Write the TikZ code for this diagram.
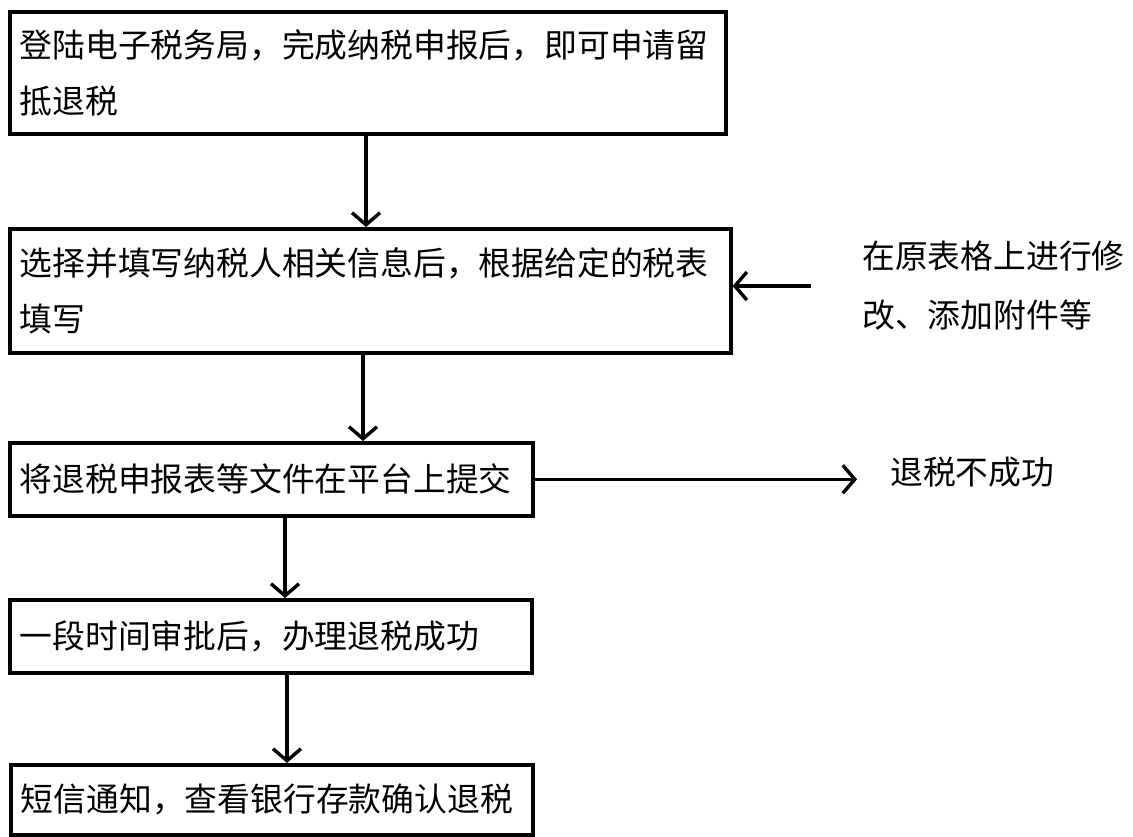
\documentclass[tikz,border=0pt]{standalone}
\usepackage{fontspec}
\setmainfont{Noto Sans CJK SC}
\usetikzlibrary{arrows.meta}
\begin{document}
\begin{tikzpicture}[x=1pt,y=1pt,
  stepbox/.style={draw, line width=3.6pt, anchor=north west, inner xsep=10pt, inner ysep=0pt, align=left, font=\fontsize{32.8}{56}\selectfont},
  arr/.style={line width=3.4pt, -{Straight Barb[length=12pt,width=28pt,line width=3.4pt]}},
  plain/.style={inner sep=0pt, anchor=west, align=left, font=\fontsize{32.8}{59}\selectfont}]
\useasboundingbox[fill=white] (0,0) rectangle (1133,-837);
\node[stepbox, minimum height=122pt, text width=696pt] (b1) at (8,-10) {登陆电子税务局，完成纳税申报后，即可申请留\\抵退税};
\node[stepbox, minimum height=124pt, text width=701pt] (b2) at (8,-227) {选择并填写纳税人相关信息后，根据给定的税表\\填写};
\node[stepbox, minimum height=73pt, text width=503pt] (b3) at (8,-441) {将退税申报表等文件在平台上提交};
\node[stepbox, minimum height=73pt, text width=502pt] (b4) at (8,-598) {一段时间审批后，办理退税成功};
\node[stepbox, minimum height=70pt, text width=502pt] (b5) at (9,-763) {短信通知，查看银行存款确认退税};
\node[plain] (side) at (862,-286) {在原表格上进行修\\改、添加附件等};
\node[plain] (fail) at (890,-472) {退税不成功};
\coordinate (s) at ([xshift=-51pt]side.west);
\draw[arr] ([xshift=358pt]b1.south west) -- ([xshift=358pt]b2.north west);
\draw[arr] ([xshift=355pt]b2.south west) -- ([xshift=355pt]b3.north west);
\draw[arr] ([xshift=277pt]b3.south west) -- ([xshift=277pt]b4.north west);
\draw[arr] ([xshift=279pt]b4.south west) -- ([xshift=278pt]b5.north west);
\draw[arr] (s) -- (s -| b2.east);
\draw[arr] (b3.east) -- ([xshift=-33pt]b3.east -| fail.west);
\end{tikzpicture}
\end{document}
